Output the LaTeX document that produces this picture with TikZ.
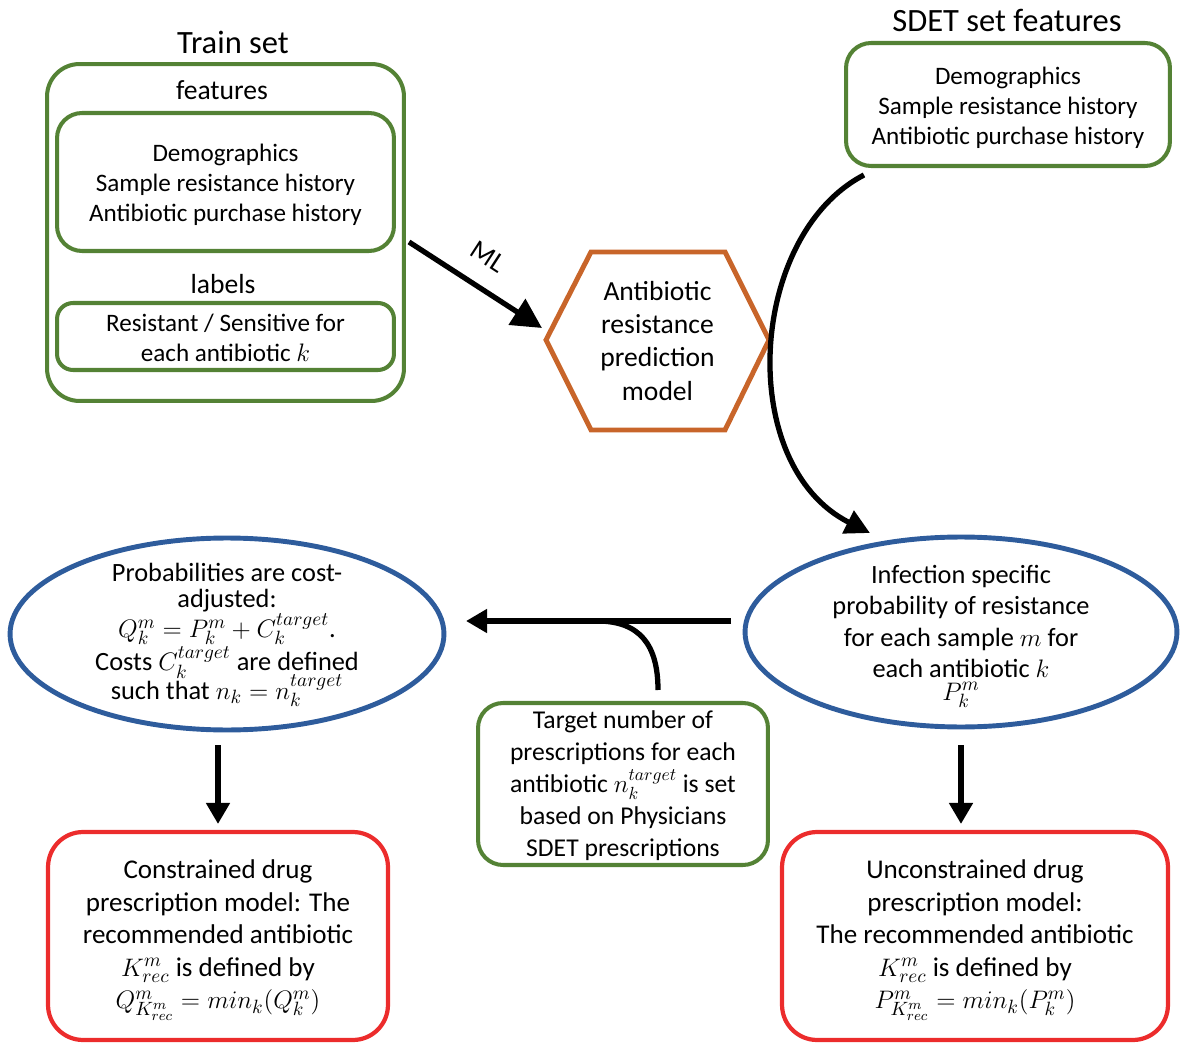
\documentclass[tikz,border=0pt]{standalone}
\usepackage{fontspec}
\setmainfont{Carlito}
\usetikzlibrary{arrows.meta,shapes.geometric}
\definecolor{grn}{RGB}{84,130,53}
\definecolor{blu}{RGB}{46,92,156}
\definecolor{org}{RGB}{200,101,42}
\definecolor{rd}{RGB}{236,44,44}
\tikzset{
  gbox/.style={draw=grn,line width=2.3pt,rounded corners=0.5cm,align=center,inner sep=0pt},
  bell/.style={draw=blu,ellipse,line width=2.8pt,inner sep=0pt},
  elltxt/.style={align=center,inner sep=0pt,font=\fontsize{15}{17.9}\selectfont},
  rbox/.style={draw=rd,line width=2.4pt,rounded corners=0.7cm,inner sep=0pt},
  rtxt/.style={align=center,inner sep=0pt,font=\fontsize{15.4}{18.5}\selectfont},
  arr/.style={line width=3pt,-{Triangle[length=12pt,width=13pt]}},
  ttl/.style={font=\fontsize{18.5}{22}\selectfont,inner sep=0pt},
  lbl/.style={font=\fontsize{15.7}{18}\selectfont,inner sep=0pt},
  lst/.style={align=center,inner sep=0pt,font=\fontsize{14.3}{17.1}\selectfont}
}
\begin{document}
\begin{tikzpicture}[x=0.02cm,y=-0.02cm]
\useasboundingbox (0,0) rectangle (1184,1044);
% Train set
\node[ttl] (traintitle) at (233,42) {Train set};
\node[gbox,rounded corners=0.65cm,minimum width=7.14cm,minimum height=6.74cm] (train) at (225.5,232.5) {};
\node[lbl] (feat) at (222,90) {features};
\node[gbox,minimum width=6.74cm,minimum height=2.76cm] (trfeat) at (225.5,182) {};
\node[lst] (trfeattxt) at (225.5,185) {Demographics\\Sample resistance history\\Antibiotic purchase history};
\node[lbl] (labels) at (223,284) {labels};
\node[gbox,rounded corners=0.32cm,minimum width=6.74cm,minimum height=1.34cm] (trlab) at (225.5,336.5) {};
\node[lst] (trlabtxt) at (225.5,338) {Resistant / Sensitive for\\each antibiotic \(k\)};
% SDET
\node[ttl] (sdettitle) at (1007,20) {SDET set features};
\node[gbox,minimum width=6.48cm,minimum height=2.46cm] (sdet) at (1008,104.5) {};
\node[lst] (sdettxt) at (1008,107.5) {Demographics\\Sample resistance history\\Antibiotic purchase history};
% Hexagon
\draw[org,line width=2.8pt,line join=miter] (546,340) -- (591,252) -- (725,252) -- (769,340) -- (725,430) -- (591,430) -- cycle;
\node[align=center,font=\fontsize{15.7}{18.8}\selectfont] (hex) at (657.5,341) {Antibiotic\\resistance\\prediction\\model};
% ML arrow
\coordinate (mls) at (409,242);
\coordinate (mle) at (542,328);
\draw[line width=3pt,-{Triangle[length=17pt,width=17pt]}] (mls) -- (mle);
\node[lbl,rotate=-33] (ml) at (488,257) {ML};
% Ellipses
\node[bell,minimum width=8.64cm,minimum height=3.8cm] (rell) at (961,632) {};
\node[elltxt] (relltxt) at (961,636) {Infection specific\\probability of resistance\\for each sample \(m\) for\\each antibiotic \(k\)\\[-5pt]\(P_k^m\)};
\node[bell,minimum width=8.68cm,minimum height=3.84cm] (lell) at (227,634) {};
\node[elltxt] (lelltxt) at (227,635) {Probabilities are cost-\\[-3pt]adjusted:\\[-1pt]\(Q_k^m = P_k^m + C_k^{target}\).\\Costs \(C_k^{target}\) are defined\\[-3pt]such that \(n_k = n_k^{target}\)};
% SDET curved arrow
\coordinate (cs) at (864,175);
\coordinate (ce) at (870,533);
\draw[arr,-{Triangle[length=14pt,width=14pt]}] (cs) .. controls (748,235) and (735,465) .. (ce);
% target box
\node[gbox,minimum width=5.8cm,minimum height=3.24cm] (tgt) at (623,784) {};
\node[lst,font=\fontsize{14.6}{18.2}\selectfont] (tgttxt) at (623,786) {Target number of\\prescriptions for each\\antibiotic \(n_k^{target}\) is set\\based on Physicians\\SDET prescriptions};
% horizontal arrow
\coordinate (hs) at (731,621);
\coordinate (he) at (466,621);
\coordinate (hj) at (597,621);
\coordinate (ts) at (658,690);
\draw[arr] (hs) -- (he);
\draw[line width=3pt] (ts) .. controls (658,645) and (640,621) .. (hj);
% red boxes
\node[rbox,minimum width=6.8cm,minimum height=4.16cm] (lred) at (218,936) {};
\node[rtxt] (lredtxt) at (218,940) {Constrained drug\\prescription model: The\\recommended antibiotic\\\(K_{rec}^m\) is defined by\\\(Q^m_{K^m_{rec}} = min_k(Q_k^m)\)};
\node[rbox,minimum width=7.72cm,minimum height=4.16cm] (rred) at (975,936) {};
\node[rtxt] (rredtxt) at (975,940) {Unconstrained drug\\prescription model:\\The recommended antibiotic\\\(K_{rec}^m\) is defined by\\\(P^m_{K^m_{rec}} = min_k(P_k^m)\)};
% down arrows
\coordinate (lds) at (218,745);
\coordinate (lde) at (218,824);
\coordinate (rds) at (961,745);
\coordinate (rde) at (961,824);
\draw[arr] (lds) -- (lde);
\draw[arr] (rds) -- (rde);
\end{tikzpicture}
\end{document}
